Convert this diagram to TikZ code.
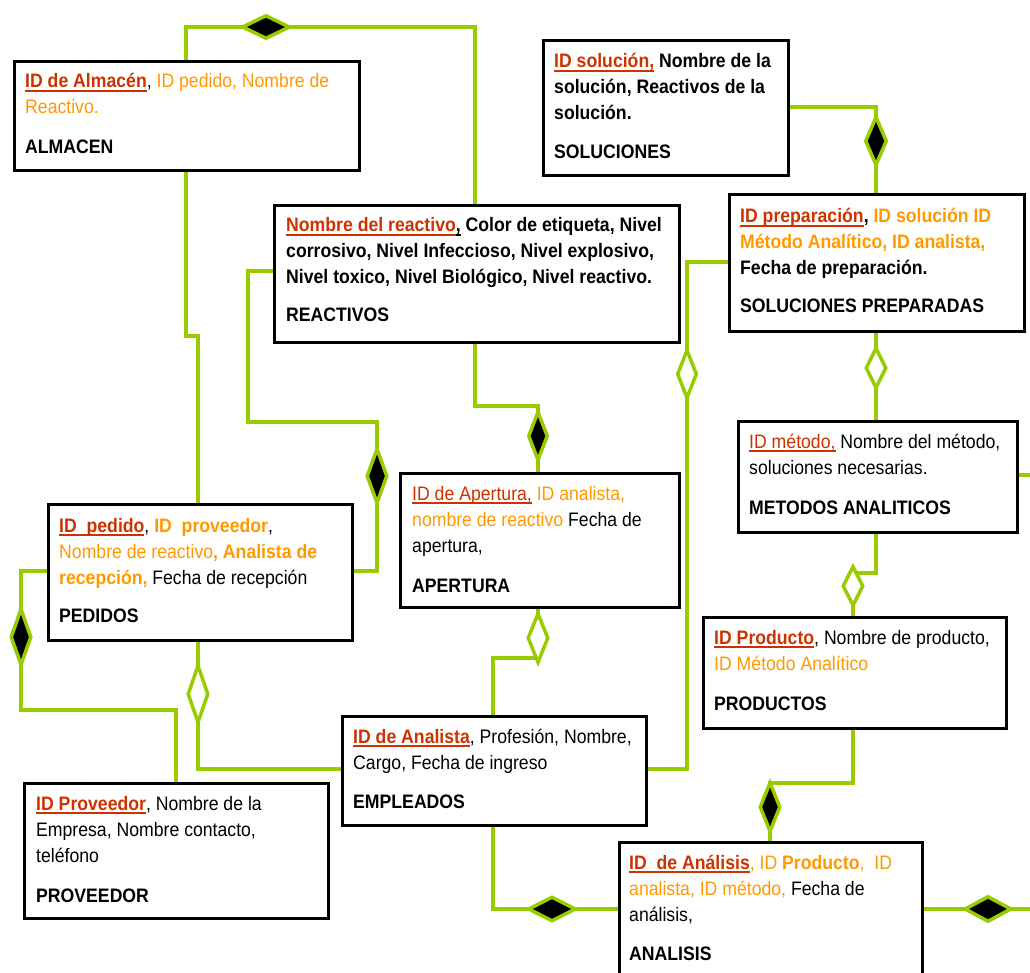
\documentclass[tikz,border=0pt]{standalone}
\usepackage{fontspec}
\setmainfont{Liberation Sans}[FakeStretch=0.905]
\usetikzlibrary{shapes.geometric,calc}
\definecolor{lnk}{RGB}{153,204,0}
\definecolor{keyred}{RGB}{204,51,0}
\definecolor{orng}{RGB}{255,153,0}
\newcommand\cKey{\color{keyred}}
\newcommand\cOrg{\color{orng}}
\newcommand\ulin[1]{\leavevmode\setbox0\hbox{#1}\rlap{\rule[-3.8pt]{\wd0}{2pt}}\box0}
\newcommand\btxt[1]{\parbox[t]{420pt}{\fontsize{19.5}{26}\selectfont\raggedright\leavevmode #1}}
\begin{document}
\begin{tikzpicture}[x=1pt,y=-1pt,
  ebox/.style={draw=black,line width=3pt,rectangle,inner sep=0pt,anchor=north west,fill=white},
  etxt/.style={anchor=base west,inner sep=0pt,text=black},
  link/.style={draw=lnk,line width=3.5pt},
  fdia/.style={diamond,draw=lnk,fill=black,line width=3.5pt,inner sep=0pt},
  hdia/.style={diamond,draw=lnk,fill=white,line width=3.5pt,inner sep=0pt}]
\useasboundingbox (0,0) rectangle (1030,973);
\clip (0,0) rectangle (1030,973);

% boxes
\node[ebox,minimum width=345pt,minimum height=109pt] (alm) at (13,60) {};
\node[ebox,minimum width=245pt,minimum height=135pt] (sol) at (542,39) {};
\node[ebox,minimum width=295pt,minimum height=137pt] (sp) at (728,193) {};
\node[ebox,minimum width=405pt,minimum height=137pt] (rea) at (273,204) {};
\node[ebox,minimum width=304pt,minimum height=136pt] (ped) at (47,503) {};
\node[ebox,minimum width=279pt,minimum height=134pt] (ape) at (399,472) {};
\node[ebox,minimum width=279pt,minimum height=111pt] (met) at (737,420) {};
\node[ebox,minimum width=303pt,minimum height=111pt] (pro) at (702,616) {};
\node[ebox,minimum width=304pt,minimum height=109pt] (emp) at (341,715) {};
\node[ebox,minimum width=304pt,minimum height=135pt] (prov) at (23,782) {};
\node[ebox,minimum width=303pt,minimum height=170pt] (ana) at (618,841) {};

% texts
\node[etxt] (talm) at ($(alm.north west)+(12,28)$) {\btxt{{\cKey\bfseries\ulin{ID de Almacén}}, {\cOrg ID pedido, Nombre de}\\{\cOrg Reactivo.}\\[14pt]\textbf{ALMACEN}}};
\node[etxt] (tsol) at ($(sol.north west)+(12,29)$) {\btxt{{\cKey\bfseries\ulin{ID solución,}} \textbf{Nombre de la}\\\textbf{solución, Reactivos de la}\\\textbf{solución.}\\[13pt]\textbf{SOLUCIONES}}};
\node[etxt] (tsp) at ($(sp.north west)+(12,30)$) {\btxt{{\cKey\bfseries\ulin{ID preparación}}\textbf{,} {\cOrg\bfseries ID solución ID}\\{\cOrg\bfseries Método Analítico, ID analista,}\\\textbf{Fecha de preparación.}\\[12pt]\textbf{SOLUCIONES PREPARADAS}}};
\node[etxt] (trea) at ($(rea.north west)+(13,28)$) {\btxt{{\cKey\bfseries\ulin{Nombre del reactivo}}\textbf{\ulin{,}} \textbf{Color de etiqueta, Nivel}\\\textbf{corrosivo, Nivel Infeccioso, Nivel explosivo,}\\\textbf{Nivel toxico, Nivel Biológico, Nivel reactivo.}\\[12pt]\textbf{REACTIVOS}}};
\node[etxt] (tped) at ($(ped.north west)+(12,29)$) {\btxt{{\cKey\bfseries\ulin{ID\ \ pedido}}, {\cOrg\bfseries ID\ \ proveedor},\\{\cOrg Nombre de reactivo\textbf{, Analista de}}\\{\cOrg\bfseries recepción,} Fecha de recepción\\[12pt]\textbf{PEDIDOS}}};
\node[etxt] (tape) at ($(ape.north west)+(13,28)$) {\btxt{{\cKey\ulin{ID de Apertura,}} {\cOrg ID analista,}\\{\cOrg nombre de reactivo} Fecha de\\apertura,\\[14pt]\textbf{APERTURA}}};
\node[etxt] (tmet) at ($(met.north west)+(12,28)$) {\btxt{{\cKey\ulin{ID método,}} Nombre del método,\\soluciones necesarias.\\[14pt]\textbf{METODOS ANALITICOS}}};
\node[etxt] (tpro) at ($(pro.north west)+(12,28)$) {\btxt{{\cKey\bfseries\ulin{ID Producto}}, Nombre de producto,\\{\cOrg ID Método Analítico}\\[14pt]\textbf{PRODUCTOS}}};
\node[etxt] (temp) at ($(emp.north west)+(12,28)$) {\btxt{{\cKey\bfseries\ulin{ID de Analista}}, Profesión, Nombre,\\Cargo, Fecha de ingreso\\[13pt]\textbf{EMPLEADOS}}};
\node[etxt] (tprov) at ($(prov.north west)+(13,28)$) {\btxt{{\cKey\bfseries\ulin{ID Proveedor}}, Nombre de la\\Empresa, Nombre contacto,\\teléfono\\[14pt]\textbf{PROVEEDOR}}};
\node[etxt] (tana) at ($(ana.north west)+(11,28)$) {\btxt{{\cKey\bfseries\ulin{ID\ \ de Análisis}}{\cOrg, ID \textbf{Producto},\ \ ID}\\{\cOrg analista, ID método,} Fecha de\\análisis,\\[13pt]\textbf{ANALISIS}}};

% diamond positions and bends
\coordinate (d1) at (266,27);
\coordinate (d2) at (377,476);
\coordinate (d3) at (538,436);
\coordinate (d4) at (538,638);
\coordinate (d5) at (198,694);
\coordinate (d6) at (21,637);
\coordinate (d7) at (876,141);
\coordinate (d8) at (687,374);
\coordinate (d9) at (876,368);
\coordinate (d10) at (853,586);
\coordinate (d11) at (770,807);
\coordinate (d12) at (552,909);
\coordinate (d13) at (988,909);
\coordinate (b2) at (198,336);
\coordinate (b3) at (248,422);
\coordinate (b4) at (538,406);
\coordinate (b5) at (538,658);
\coordinate (b7) at (21,710);
\coordinate (b9) at (687,769);
\coordinate (b11) at (853,573);
\coordinate (b12) at (1040,475);
\coordinate (b13) at (770,783);
\coordinate (b15) at (1040,909);

% connectors
\draw[link] ([xshift=173pt]alm.north west) |- (d1) -| ([xshift=202pt]rea.north west);
\draw[link] ([xshift=173pt]alm.south west) |- (b2) -- ([xshift=151pt]ped.north west);
\draw[link] ([yshift=-67pt]rea.north west) -| (b3) -| (d2) |- ([yshift=-68pt]ped.north east);
\draw[link] ([xshift=202pt]rea.south west) |- (b4) -- ([xshift=139pt]ape.north west);
\draw[link] ([xshift=139pt]ape.south west) -- (b5) -| ([xshift=152pt]emp.north west);
\draw[link] ([xshift=151pt]ped.south west) |- ([yshift=-54pt]emp.north west);
\draw[link] ([yshift=-68pt]ped.north west) -| (b7) -| ([xshift=153pt]prov.north west);
\draw[link] ([yshift=-68pt]sol.north east) -| ([xshift=148pt]sp.north west);
\draw[link] ([yshift=-69pt]sp.north west) -| (b9) -- ([yshift=-54pt]emp.north east);
\draw[link] ([xshift=148pt]sp.south west) -- ([xshift=139pt]met.north west);
\draw[link] ([xshift=139pt]met.south west) |- (b11) -- ([xshift=151pt]pro.north west);
\draw[link] ([yshift=-55pt]met.north east) -- (b12);
\draw[link] ([xshift=151pt]pro.south west) |- (b13) -- ([xshift=152pt]ana.north west);
\draw[link] ([xshift=152pt]emp.south west) |- ([yshift=-68pt]ana.north west);
\draw[link] ([yshift=-68pt]ana.north east) -- (b15);

% diamonds
\node[fdia,minimum width=48pt,minimum height=24pt] (m1) at (d1) {};
\node[fdia,minimum width=21pt,minimum height=55pt] (m2) at (d2) {};
\node[fdia,minimum width=20pt,minimum height=49pt] (m3) at (d3) {};
\node[hdia,minimum width=21pt,minimum height=50pt] (m4) at (d4) {};
\node[hdia,minimum width=21pt,minimum height=58pt] (m5) at (d5) {};
\node[fdia,minimum width=21pt,minimum height=57pt] (m6) at (d6) {};
\node[fdia,minimum width=22pt,minimum height=49pt] (m7) at (d7) {};
\node[hdia,minimum width=20pt,minimum height=49pt] (m8) at (d8) {};
\node[hdia,minimum width=21pt,minimum height=41pt] (m9) at (d9) {};
\node[hdia,minimum width=21pt,minimum height=40pt] (m10) at (d10) {};
\node[fdia,minimum width=21pt,minimum height=50pt] (m11) at (d11) {};
\node[fdia,minimum width=48pt,minimum height=25pt] (m12) at (d12) {};
\node[fdia,minimum width=47pt,minimum height=26pt] (m13) at (d13) {};
\end{tikzpicture}
\end{document}
